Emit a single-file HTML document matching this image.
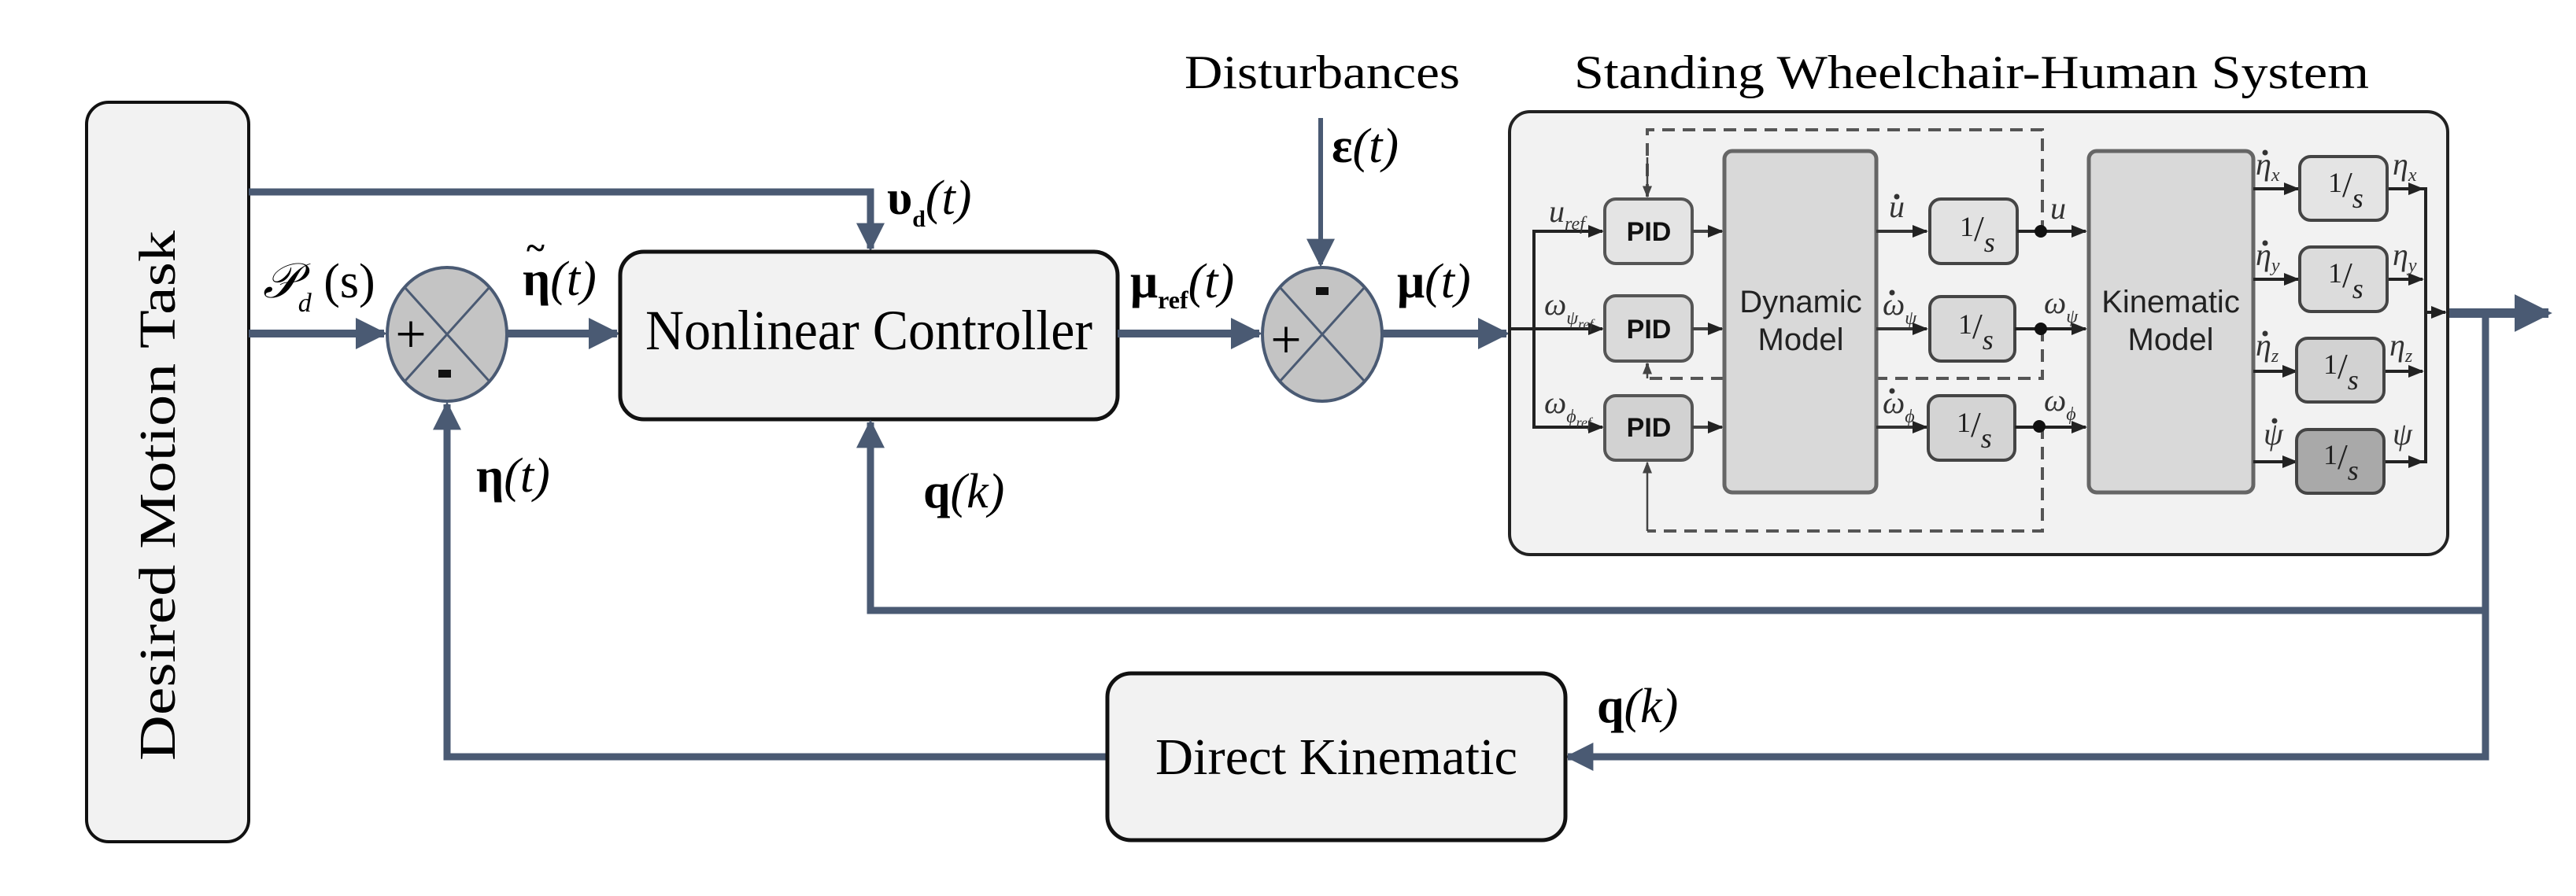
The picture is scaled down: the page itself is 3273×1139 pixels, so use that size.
<!DOCTYPE html>
<html><head><meta charset="utf-8"><style>
html,body{margin:0;padding:0;background:#fff;}
svg{display:block;}
.s{font-family:"Liberation Serif",serif;}
.i{font-family:"Liberation Serif",serif;font-style:italic;}
.a{font-family:"Liberation Sans",sans-serif;}
</style></head><body>
<svg width="3273" height="1139" viewBox="0 0 3273 1139" xmlns="http://www.w3.org/2000/svg">
<defs>
<marker id="B" viewBox="0 0 10 10" refX="9" refY="5" markerWidth="4" markerHeight="4" orient="auto" markerUnits="strokeWidth"><path d="M0,0 L10,5 L0,10 z" fill="#4a5a73"/></marker>
<marker id="Bs" viewBox="0 0 10 10" refX="9" refY="5" markerWidth="6" markerHeight="6" orient="auto" markerUnits="strokeWidth"><path d="M0,0 L10,5 L0,10 z" fill="#4a5a73"/></marker>
<marker id="K" viewBox="0 0 10 10" refX="9" refY="5" markerWidth="5" markerHeight="5" orient="auto" markerUnits="strokeWidth"><path d="M0,1 L10,5 L0,9 z" fill="#222"/></marker>
<marker id="Kg" viewBox="0 0 10 10" refX="9" refY="5" markerWidth="6" markerHeight="6" orient="auto" markerUnits="strokeWidth"><path d="M0,1 L10,5 L0,9 z" fill="#444"/></marker>
</defs>

<rect x="110" y="130" width="206" height="940" rx="28" fill="#f2f2f2" stroke="#111" stroke-width="4"/>
<text class="s" x="0" y="0" font-size="66" textLength="674" lengthAdjust="spacingAndGlyphs" transform="translate(222,967) rotate(-90)">Desired Motion Task</text>

<polyline points="316,244 1106,244 1106,316" fill="none" stroke="#4a5a73" stroke-width="9" marker-end="url(#B)"/>
<line x1="316" y1="424" x2="488" y2="424" stroke="#4a5a73" stroke-width="10" marker-end="url(#B)"/>
<ellipse cx="568" cy="425" rx="76" ry="85" fill="#c4c4c4" stroke="#4a5a73" stroke-width="4"/>
<line x1="514" y1="365" x2="622" y2="485" stroke="#4a5a73" stroke-width="3"/>
<line x1="622" y1="365" x2="514" y2="485" stroke="#4a5a73" stroke-width="3"/>
<text class="s" x="522" y="448" font-size="70" text-anchor="middle">+</text>
<rect x="557" y="470" width="16" height="10" fill="#111"/>
<line x1="645" y1="424" x2="784" y2="424" stroke="#4a5a73" stroke-width="10" marker-end="url(#B)"/>

<rect x="788" y="320" width="632" height="213" rx="30" fill="#f2f2f2" stroke="#111" stroke-width="5"/>
<text class="s" x="1104" y="444" font-size="72" text-anchor="middle" textLength="568" lengthAdjust="spacingAndGlyphs">Nonlinear Controller</text>

<line x1="1420" y1="424" x2="1600" y2="424" stroke="#4a5a73" stroke-width="10" marker-end="url(#B)"/>
<ellipse cx="1680" cy="425" rx="76" ry="85" fill="#c4c4c4" stroke="#4a5a73" stroke-width="4"/>
<line x1="1626" y1="365" x2="1734" y2="485" stroke="#4a5a73" stroke-width="3"/>
<line x1="1734" y1="365" x2="1626" y2="485" stroke="#4a5a73" stroke-width="3"/>
<text class="s" x="1634" y="455" font-size="70" text-anchor="middle">+</text>
<rect x="1672" y="365" width="16" height="10" fill="#111"/>
<line x1="1678" y1="150" x2="1678" y2="336" stroke="#4a5a73" stroke-width="6" marker-end="url(#Bs)"/>
<line x1="1756" y1="424" x2="1914" y2="424" stroke="#4a5a73" stroke-width="10" marker-end="url(#B)"/>

<text class="s" x="1680" y="112" font-size="60" text-anchor="middle" textLength="350" lengthAdjust="spacingAndGlyphs">Disturbances</text>
<text class="s" x="2505" y="112" font-size="60" text-anchor="middle" textLength="1010" lengthAdjust="spacingAndGlyphs">Standing Wheelchair-Human System</text>

<text class="i" x="334" y="378" font-size="62">𝒫<tspan font-size="34" dy="18">d</tspan><tspan dy="-18" font-style="normal"> (s)</tspan></text>
<text class="s" x="664" y="375" font-size="62" font-weight="bold">η<tspan font-weight="normal" font-style="italic">(t)</tspan></text>
<text class="s" x="669" y="330" font-size="44" font-weight="bold">~</text>
<text class="s" x="1127" y="272" font-size="62" font-weight="bold">υ<tspan font-size="30" dy="16">d</tspan><tspan dy="-16" font-weight="normal" font-style="italic">(t)</tspan></text>
<text class="s" x="1436" y="378" font-size="62" font-weight="bold">μ<tspan font-size="32" dy="14">ref</tspan><tspan dy="-14" font-weight="normal" font-style="italic">(t)</tspan></text>
<text class="s" x="1692" y="206" font-size="62" font-weight="bold">ε<tspan font-weight="normal" font-style="italic">(t)</tspan></text>
<text class="s" x="1775" y="378" font-size="62" font-weight="bold">μ<tspan font-weight="normal" font-style="italic">(t)</tspan></text>
<text class="s" x="605" y="625" font-size="62" font-weight="bold">η<tspan font-weight="normal" font-style="italic">(t)</tspan></text>
<text class="s" x="1173" y="645" font-size="62" font-weight="bold">q<tspan font-weight="normal" font-style="italic">(k)</tspan></text>
<text class="s" x="2029" y="918" font-size="62" font-weight="bold">q<tspan font-weight="normal" font-style="italic">(k)</tspan></text>

<polyline points="3110,398 3238,398" fill="none" stroke="#4a5a73" stroke-width="12" marker-end="url(#B)"/>
<polyline points="3158,398 3158,962 1992,962" fill="none" stroke="#4a5a73" stroke-width="9" marker-end="url(#B)"/>
<polyline points="3158,776 1106,776 1106,537" fill="none" stroke="#4a5a73" stroke-width="9" marker-end="url(#B)"/>
<polyline points="1407,962 568,962 568,514" fill="none" stroke="#4a5a73" stroke-width="9" marker-end="url(#B)"/>

<rect x="1407" y="856" width="582" height="212" rx="30" fill="#f2f2f2" stroke="#111" stroke-width="5"/>
<text class="s" x="1698" y="984" font-size="66" text-anchor="middle" textLength="460" lengthAdjust="spacingAndGlyphs">Direct Kinematic</text>

<rect x="1918" y="142" width="1192" height="563" rx="26" fill="#f2f2f2" stroke="#222" stroke-width="4"/>

<g fill="none" stroke="#555" stroke-width="4" stroke-dasharray="16,10">
<polyline points="2093,250 2093,165 2595,165 2595,294"/>
<polyline points="2595,418 2595,481 2093,481 2093,462"/>
<polyline points="2595,542 2595,675 2093,675"/>
</g>
<line x1="2093" y1="200" x2="2093" y2="250" stroke="#444" stroke-width="2.5" marker-end="url(#Kg)"/>
<line x1="2093" y1="481" x2="2093" y2="462" stroke="#444" stroke-width="2.5" marker-end="url(#Kg)"/>
<line x1="2093" y1="675" x2="2093" y2="588" stroke="#444" stroke-width="2.5" marker-end="url(#Kg)"/>

<line x1="1918" y1="418" x2="1949" y2="418" stroke="#222" stroke-width="4"/>
<polyline points="2036,294 1949,294 1949,543 2036,543" fill="none" stroke="#222" stroke-width="4"/>
<line x1="1949" y1="418" x2="2036" y2="418" stroke="#222" stroke-width="4" marker-end="url(#K)"/>
<line x1="2030" y1="294" x2="2036" y2="294" stroke="#222" stroke-width="4" marker-end="url(#K)"/>
<line x1="2030" y1="543" x2="2036" y2="543" stroke="#222" stroke-width="4" marker-end="url(#K)"/>

<g stroke="#555" stroke-width="4">
<rect x="2039" y="253" width="111" height="82" rx="14" fill="#e4e4e4"/>
<rect x="2039" y="376" width="111" height="83" rx="14" fill="#dadada"/>
<rect x="2039" y="503" width="111" height="82" rx="14" fill="#d2d2d2"/>
</g>
<g class="a" font-size="34" font-weight="bold" text-anchor="middle" fill="#111">
<text x="2095" y="306">PID</text><text x="2095" y="430">PID</text><text x="2095" y="555">PID</text>
</g>
<g stroke="#444" stroke-width="4">
<line x1="2150" y1="294" x2="2188" y2="294" marker-end="url(#K)"/>
<line x1="2150" y1="418" x2="2188" y2="418" marker-end="url(#K)"/>
<line x1="2150" y1="543" x2="2188" y2="543" marker-end="url(#K)"/>
</g>

<rect x="2191" y="192" width="193" height="434" rx="10" fill="#d9d9d9" stroke="#666" stroke-width="5"/>
<text class="a" x="2288" y="397" font-size="40" text-anchor="middle" fill="#222">Dynamic</text>
<text class="a" x="2288" y="445" font-size="40" text-anchor="middle" fill="#222">Model</text>

<g stroke="#333" stroke-width="4">
<line x1="2384" y1="294" x2="2448" y2="294" marker-end="url(#K)"/>
<line x1="2384" y1="418" x2="2448" y2="418" marker-end="url(#K)"/>
<line x1="2384" y1="543" x2="2448" y2="543" marker-end="url(#K)"/>
</g>
<g stroke="#444" stroke-width="4">
<rect x="2452" y="253" width="111" height="82" rx="14" fill="#e2e2e2"/>
<rect x="2452" y="377" width="108" height="82" rx="14" fill="#d9d9d9"/>
<rect x="2450" y="503" width="110" height="82" rx="14" fill="#d4d4d4"/>
</g>
<g class="s" font-size="36" fill="#222">
<text x="2490" y="300">1<tspan font-size="46" dy="6">/</tspan><tspan font-style="italic" dy="14">s</tspan></text>
<text x="2488" y="424">1<tspan font-size="46" dy="6">/</tspan><tspan font-style="italic" dy="14">s</tspan></text>
<text x="2486" y="549">1<tspan font-size="46" dy="6">/</tspan><tspan font-style="italic" dy="14">s</tspan></text>
</g>
<g stroke="#222" stroke-width="4">
<line x1="2563" y1="294" x2="2650" y2="294" marker-end="url(#K)"/>
<line x1="2560" y1="418" x2="2650" y2="418" marker-end="url(#K)"/>
<line x1="2560" y1="543" x2="2650" y2="543" marker-end="url(#K)"/>
</g>
<circle cx="2593" cy="294" r="8" fill="#111"/>
<circle cx="2593" cy="418" r="8" fill="#111"/>
<circle cx="2591" cy="542" r="8" fill="#111"/>

<rect x="2654" y="192" width="209" height="434" rx="10" fill="#d9d9d9" stroke="#666" stroke-width="5"/>
<text class="a" x="2758" y="397" font-size="40" text-anchor="middle" fill="#222">Kinematic</text>
<text class="a" x="2758" y="445" font-size="40" text-anchor="middle" fill="#222">Model</text>

<g stroke="#222" stroke-width="4">
<line x1="2863" y1="240" x2="2920" y2="240" marker-end="url(#K)"/>
<line x1="2863" y1="355" x2="2920" y2="355" marker-end="url(#K)"/>
<line x1="2863" y1="472" x2="2918" y2="472" marker-end="url(#K)"/>
<line x1="2863" y1="587" x2="2918" y2="587" marker-end="url(#K)"/>
<line x1="3033" y1="240" x2="3078" y2="240" marker-end="url(#K)"/>
<line x1="3033" y1="355" x2="3078" y2="355" marker-end="url(#K)"/>
<line x1="3030" y1="472" x2="3078" y2="472" marker-end="url(#K)"/>
<line x1="3030" y1="587" x2="3078" y2="587" marker-end="url(#K)"/>
<polyline points="3078,240 3082,240 3082,587 3078,587" fill="none"/>
<line x1="3082" y1="397" x2="3107" y2="397" marker-end="url(#K)"/>
</g>
<g stroke="#444" stroke-width="4">
<rect x="2922" y="199" width="111" height="81" rx="14" fill="#e4e4e4"/>
<rect x="2922" y="314" width="111" height="82" rx="14" fill="#dcdcdc"/>
<rect x="2918" y="430" width="111" height="81" rx="14" fill="#d2d2d2"/>
<rect x="2918" y="546" width="111" height="81" rx="14" fill="#a9a9a9"/>
</g>
<g class="s" font-size="36" fill="#222">
<text x="2958" y="244">1<tspan font-size="46" dy="6">/</tspan><tspan font-style="italic" dy="14">s</tspan></text>
<text x="2958" y="359">1<tspan font-size="46" dy="6">/</tspan><tspan font-style="italic" dy="14">s</tspan></text>
<text x="2952" y="475">1<tspan font-size="46" dy="6">/</tspan><tspan font-style="italic" dy="14">s</tspan></text>
<text x="2952" y="590">1<tspan font-size="46" dy="6">/</tspan><tspan font-style="italic" dy="14">s</tspan></text>
</g>

<g class="i" fill="#333" font-size="40">
<text x="1968" y="282">u<tspan font-size="24" dy="10">ref</tspan></text>
<text x="1962" y="400">ω<tspan font-size="24" dy="12">ψ</tspan><tspan font-size="18" dy="6">ref</tspan></text>
<text x="1962" y="525">ω<tspan font-size="24" dy="12">ϕ</tspan><tspan font-size="18" dy="6">ref</tspan></text>
<text x="2400" y="276">u</text>
<text x="2392" y="400">ω<tspan font-size="24" dy="12">ψ</tspan></text>
<text x="2392" y="525">ω<tspan font-size="24" dy="12">ϕ</tspan></text>
<text x="2605" y="278">u</text>
<text x="2597" y="398">ω<tspan font-size="24" dy="12">ψ</tspan></text>
<text x="2597" y="522">ω<tspan font-size="24" dy="12">ϕ</tspan></text>
<text x="2866" y="222">η<tspan font-size="24" dy="8">x</tspan></text>
<text x="2866" y="337">η<tspan font-size="24" dy="8">y</tspan></text>
<text x="2866" y="452">η<tspan font-size="24" dy="8">z</tspan></text>
<text x="2876" y="565">ψ</text>
<text x="3040" y="222">η<tspan font-size="24" dy="8">x</tspan></text>
<text x="3040" y="337">η<tspan font-size="24" dy="8">y</tspan></text>
<text x="3036" y="452">η<tspan font-size="24" dy="8">z</tspan></text>
<text x="3040" y="565">ψ</text>
</g>
<g fill="#333">
<circle cx="2410" cy="250" r="3.5"/>
<circle cx="2404" cy="372" r="3.5"/>
<circle cx="2404" cy="497" r="3.5"/>
<circle cx="2878" cy="194" r="3.5"/>
<circle cx="2878" cy="309" r="3.5"/>
<circle cx="2878" cy="424" r="3.5"/>
<circle cx="2890" cy="535" r="3.5"/>
</g>
</svg>
</body></html>
